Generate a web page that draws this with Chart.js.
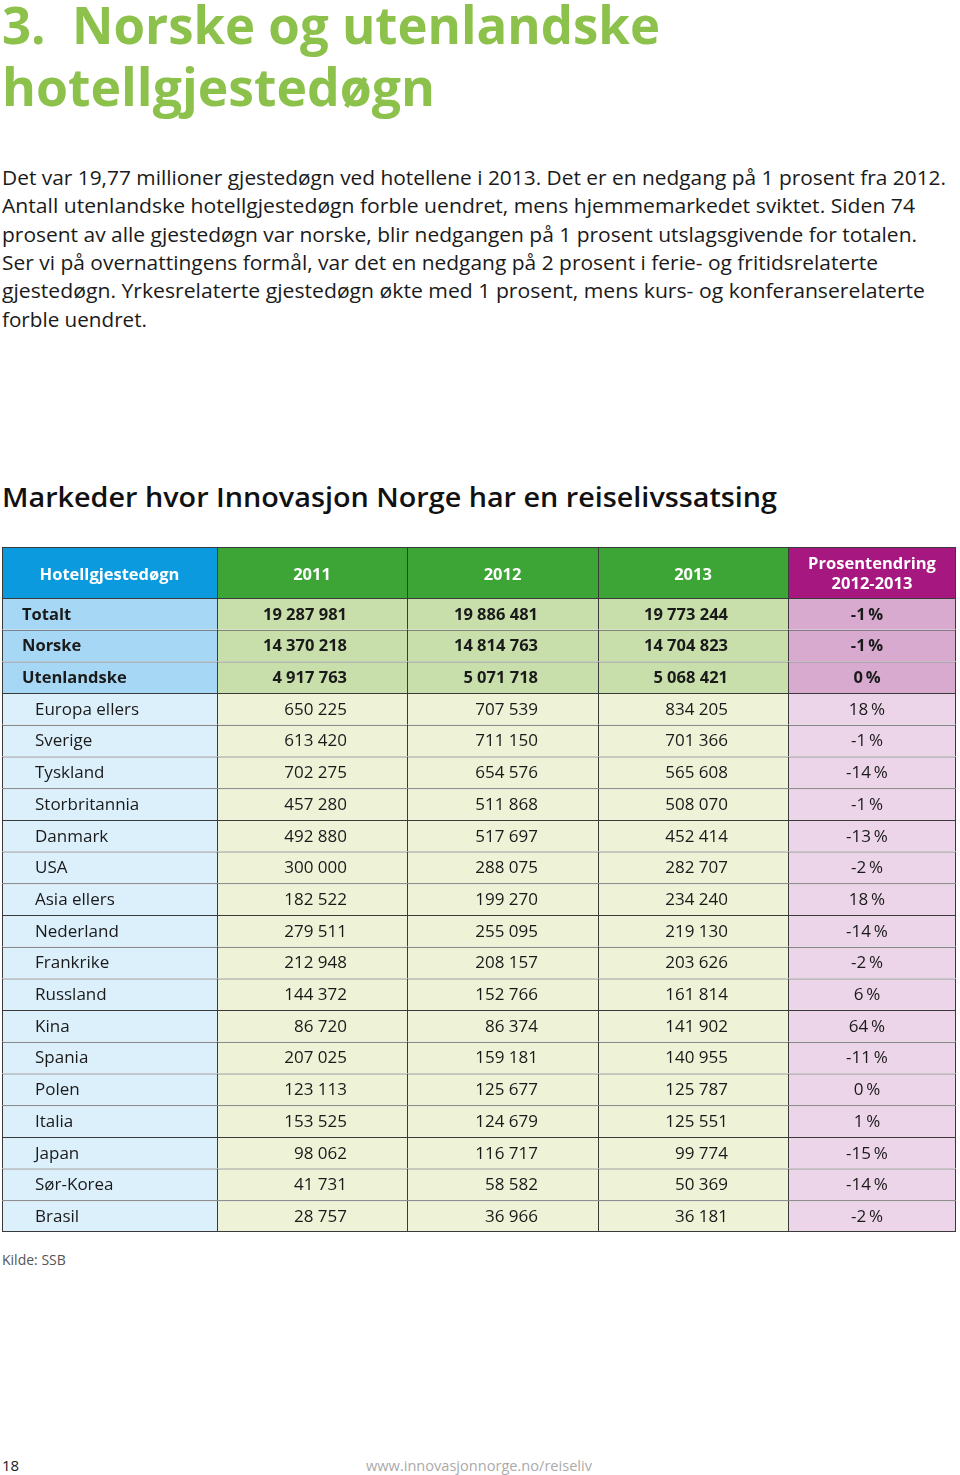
<!DOCTYPE html>
<html>
<head>
<meta charset="utf-8">
<script src="https://cdn.jsdelivr.net/npm/chart.js@4.4.0/dist/chart.umd.min.js"></script>
<style>
    body { margin: 0; width: 960px; height: 1475px; background: #fff; font-family: "Open Sans", sans-serif; position: relative; overflow: hidden; }
    .t { position: absolute; white-space: pre; transform-origin: 0 0; }
    .title { color: #8cc14c; font-size: 52px; font-weight: 700; line-height: 52px; left: 2px; }
    .para { color: #1a1a1a; font-size: 20px; line-height: 20px; left: 2px; }
    .sub { color: #111; font-size: 27px; font-weight: 600; line-height: 27px; left: 2px; }
    canvas { position: absolute; left: 2px; }
</style>
</head>
<body>
<div class="t title" style="top:-2px" data-w="658">3.  Norske og utenlandske</div>
<div class="t title" style="top:60px" data-w="433">hotellgjestedøgn</div>

<div class="t para" style="top:168px" data-w="944">Det var 19,77 millioner gjestedøgn ved hotellene i 2013. Det er en nedgang på 1 prosent fra 2012.</div>
<div class="t para" style="top:196px" data-w="913">Antall utenlandske hotellgjestedøgn forble uendret, mens hjemmemarkedet sviktet. Siden 74</div>
<div class="t para" style="top:225px" data-w="915">prosent av alle gjestedøgn var norske, blir nedgangen på 1 prosent utslagsgivende for totalen.</div>
<div class="t para" style="top:253px" data-w="876">Ser vi på overnattingens formål, var det en nedgang på 2 prosent i ferie- og fritidsrelaterte</div>
<div class="t para" style="top:281px" data-w="923">gjestedøgn. Yrkesrelaterte gjestedøgn økte med 1 prosent, mens kurs- og konferanserelaterte</div>
<div class="t para" style="top:310px" data-w="145">forble uendret.</div>

<div class="t sub" style="top:483px" data-w="775">Markeder hvor Innovasjon Norge har en reiselivssatsing</div>

<canvas id="headChart" width="954" height="51" style="top:547px"></canvas>
<canvas id="tableChart" width="954" height="634" style="top:598px"></canvas>

<div class="t" style="top:1250px; left:2px; font-size:14px; color:#555">Kilde: SSB</div>
<div class="t" style="top:1455px; left:2px; font-size:15px; color:#222">18</div>
<div class="t" style="top:1455px; left:366px; font-size:15px; color:#aaa" data-w="226">www.innovasjonnorge.no/reiseliv</div>

<script>
    // Table data
    const headers = ['Hotellgjestedøgn', '2011', '2012', '2013', ['Prosentendring', '2012-2013']];
    const rowLabels = ['Totalt', 'Norske', 'Utenlandske', 'Europa ellers', 'Sverige', 'Tyskland',
        'Storbritannia', 'Danmark', 'USA', 'Asia ellers', 'Nederland', 'Frankrike', 'Russland',
        'Kina', 'Spania', 'Polen', 'Italia', 'Japan', 'Sør-Korea', 'Brasil'];
    const nights2011 = [19287981, 14370218, 4917763, 650225, 613420, 702275, 457280, 492880, 300000,
        182522, 279511, 212948, 144372, 86720, 207025, 123113, 153525, 98062, 41731, 28757];
    const nights2012 = [19886481, 14814763, 5071718, 707539, 711150, 654576, 511868, 517697, 288075,
        199270, 255095, 208157, 152766, 86374, 159181, 125677, 124679, 116717, 58582, 36966];
    const nights2013 = [19773244, 14704823, 5068421, 834205, 701366, 565608, 508070, 452414, 282707,
        234240, 219130, 203626, 161814, 141902, 140955, 125787, 125551, 99774, 50369, 36181];
    const changePct = [-1, -1, 0, 18, -1, -14, -1, -13, -2, 18, -14, -2, 6, 64, -11, 0, 1, -15, -14, -2];
    const boldRows = 3; // Totalt, Norske, Utenlandske

    // Layout of the columns (pixels across the table)
    const colEdges = [0, 215, 405, 596, 786, 954];
    const headColors = ['#0b9ade', '#3da436', '#3da436', '#3da436', '#a6187f'];
    const boldColors = ['#a6d8f5', '#c9dfab', '#c9dfab', '#c9dfab', '#d8aad0'];
    const rowColors = ['#dcf0fc', '#eef3d8', '#eef3d8', '#eef3d8', '#ecd5e9'];
    const lineColor = '#3a3a3a';

    // Fit the page texts to the widths in the picture
    document.querySelectorAll('[data-w]').forEach(el => {
        const w = el.getBoundingClientRect().width;
        el.style.transform = `scaleX(${+el.dataset.w / w})`;
    });

    function fmt(n) {
        return String(n).replace(/\B(?=(\d{3})+(?!\d))/g, ' ');
    }

    // Cell texts for the body
    const columns = [
        rowLabels,
        nights2011.map(fmt),
        nights2012.map(fmt),
        nights2013.map(fmt),
        changePct.map(v => `${v}\u2009%`)
    ];

    function cellBorder(lastRow) {
        return ctx => ({
            top: 1,
            left: 1,
            right: ctx.datasetIndex === 4 ? 1 : 0,
            bottom: lastRow && ctx.dataIndex === lastRow - 1 ? 1 : 0
        });
    }

    function tableOptions(textOpts) {
        return {
            indexAxis: 'y',
            responsive: false,
            animation: false,
            devicePixelRatio: 1,
            layout: { padding: 0 },
            plugins: { legend: { display: false }, tooltip: { enabled: false }, cellText: textOpts },
            scales: {
                x: { type: 'linear', min: 0, max: 954, display: false },
                y: { display: false }
            }
        };
    }

    // Plugin writing the text into every cell
    const cellText = {
        id: 'cellText',
        afterDatasetsDraw(chart, args, opts) {
            const ctx = chart.ctx;
            ctx.save();
            ctx.textBaseline = 'middle';
            chart.data.datasets.forEach((ds, c) => {
                chart.getDatasetMeta(c).data.forEach((bar, r) => {
                    const text = opts.texts[c][r];
                    const y = bar.y + 1;
                    if (opts.header) {
                        ctx.fillStyle = '#fff';
                        ctx.font = 'bold 16.5px "Open Sans"';
                        ctx.textAlign = 'center';
                        const cx = (bar.x + bar.base) / 2;
                        if (Array.isArray(text)) {
                            ctx.fillText(text[0], cx, y - 9);
                            ctx.fillText(text[1], cx, y + 11);
                        } else {
                            ctx.fillText(text, cx, y + 2);
                        }
                        return;
                    }
                    const bold = r < boldRows;
                    ctx.fillStyle = '#1a1a1a';
                    ctx.font = bold ? 'bold 16.5px "Open Sans"' : '17px "Open Sans"';
                    if (c === 0) {
                        ctx.textAlign = 'left';
                        ctx.fillText(text, bar.base + (bold ? 20 : 33), y);
                    } else if (c === 4) {
                        ctx.textAlign = 'center';
                        ctx.fillText(text, bar.base + 79, y);
                    } else {
                        ctx.textAlign = 'right';
                        ctx.fillText(text, bar.x - 60, y);
                    }
                });
            });
            ctx.restore();
        }
    };

    // Initialize header row
    const headChart = new Chart(document.getElementById('headChart'), {
        type: 'bar',
        data: {
            labels: ['head'],
            datasets: headers.map((h, c) => ({
                data: [[colEdges[c], colEdges[c + 1]]],
                backgroundColor: headColors[c],
                borderColor: lineColor,
                borderWidth: cellBorder(0),
                borderSkipped: false,
                inflateAmount: 0,
                grouped: false,
                barPercentage: 1,
                categoryPercentage: 1
            }))
        },
        options: tableOptions({ header: true, texts: headers.map(h => [h]) }),
        plugins: [cellText]
    });

    // Initialize table body
    const tableChart = new Chart(document.getElementById('tableChart'), {
        type: 'bar',
        data: {
            labels: rowLabels,
            datasets: columns.map((col, c) => ({
                data: rowLabels.map(() => [colEdges[c], colEdges[c + 1]]),
                backgroundColor: rowLabels.map((l, r) => r < boldRows ? boldColors[c] : rowColors[c]),
                borderColor: lineColor,
                borderWidth: cellBorder(rowLabels.length),
                borderSkipped: false,
                inflateAmount: 0,
                grouped: false,
                barPercentage: 1,
                categoryPercentage: 1
            }))
        },
        options: tableOptions({ header: false, texts: columns }),
        plugins: [cellText]
    });
</script>
</body>
</html>
